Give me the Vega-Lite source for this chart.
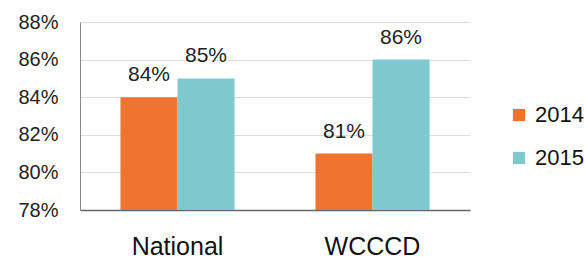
{
  "$schema": "https://vega.github.io/schema/vega-lite/v6.json",
  "width": 390,
  "height": 188,
  "autosize": {"type": "none"},
  "padding": {"left": 80, "top": 22, "right": 115, "bottom": 50},
  "background": "white",
  "config": {"view": {"stroke": null}, "font": "Liberation Sans"},
  "data": {"values": [
    {"group": "National", "year": "2014", "value": 84, "label": "84%"},
    {"group": "National", "year": "2015", "value": 85, "label": "85%"},
    {"group": "WCCCD", "year": "2014", "value": 81, "label": "81%"},
    {"group": "WCCCD", "year": "2015", "value": 86, "label": "86%"}
  ]},
  "encoding": {
    "x": {"field": "group", "type": "nominal", "sort": ["National", "WCCCD"],
      "scale": {"paddingInner": 0.415, "paddingOuter": 0.2075},
      "axis": {"title": null, "labelAngle": 0, "labelFontSize": 25, "labelColor": "#111", "labelPadding": 24, "ticks": false, "domainColor": "#666", "domainWidth": 1.5}},
    "xOffset": {"field": "year", "type": "nominal"},
    "y": {"field": "value", "type": "quantitative",
      "scale": {"domain": [78, 88], "zero": false, "nice": false},
      "axis": {"title": null, "values": [78, 80, 82, 84, 86, 88], "labelExpr": "datum.value + '%'", "labelFontSize": 20, "labelColor": "#222", "labelPadding": 22, "ticks": false, "domainColor": "#888", "gridColor": "#ddd", "grid": true}}
  },
  "layer": [
    {"mark": {"type": "bar"},
      "encoding": {
        "y2": {"datum": 78},
        "color": {"field": "year", "type": "nominal",
        "scale": {"domain": ["2014", "2015"], "range": ["#F07430", "#7DC9CE"]},
        "legend": {"title": null, "orient": "none", "legendX": 428, "legendY": 82, "labelFontSize": 22, "labelColor": "#111", "symbolType": "square", "symbolSize": 150, "rowPadding": 21, "labelOffset": 5, "symbolStrokeWidth": 0}}}},
    {"mark": {"type": "text", "dy": -22, "fontSize": 21, "color": "#222"},
      "encoding": {"text": {"field": "label", "type": "nominal"},
        "detail": {"field": "year"}}}
  ]
}
